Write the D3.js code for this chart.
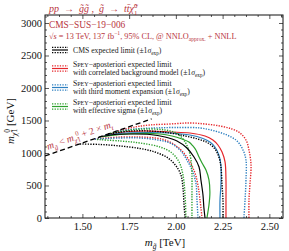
<!DOCTYPE html>
<html>
<head>
<meta charset="utf-8">
<script src="https://cdn.jsdelivr.net/npm/d3@7"></script>
<style>
  body { margin: 0; background: #fff; }
  svg { display: block; }
  text { font-family: "Liberation Serif", "DejaVu Serif", serif; }
</style>
</head>
<body>
<svg id="chart" width="289" height="251"></svg>
<script>
// axis ticks
const xTicks = [1.5, 1.75, 2.0, 2.25, 2.5];
const yTicks = [0, 500, 1000, 1500, 2000, 2500, 3000];

// kinematic boundary m_gluino = m_chi + 2 m_top  [m_g TeV, m_chi GeV]
const kinBoundary = [[1.3, 954], [1.87, 1524]];

// CMS expected limit
const cmsExp = [[1.589,1246],[1.674,1285],[1.755,1292],[1.861,1285],[1.942,1246],[2.006,1185],[2.059,1077],[2.097,938],[2.124,785],[2.134,585],[2.145,354],[2.150,154],[2.156,0]];
const cmsDown = [[1.487,1138],[1.594,1131],[1.701,1108],[1.808,1069],[1.888,1015],[1.958,923],[2.001,800],[2.027,662],[2.038,462],[2.043,231],[2.049,0]];
const cmsUp = [[1.637,1292],[1.755,1338],[1.861,1338],[1.968,1308],[2.049,1262],[2.118,1215],[2.172,1154],[2.209,1062],[2.230,938],[2.241,785],[2.247,508],[2.252,277],[2.252,0]];

// Spey, correlated background model
const corrExp = [[1.637,1292],[1.755,1331],[1.861,1338],[1.968,1323],[2.075,1308],[2.156,1262],[2.198,1200],[2.225,1123],[2.247,1015],[2.263,862],[2.268,585],[2.268,277],[2.268,0]];
const corrDown = [[1.567,1215],[1.701,1246],[1.808,1246],[1.888,1231],[1.942,1200],[1.995,1123],[2.038,1015],[2.075,862],[2.102,692],[2.118,508],[2.129,277],[2.140,0]];
const corrUp = [[1.690,1340],[1.781,1400],[1.861,1431],[1.968,1446],[2.075,1462],[2.156,1446],[2.236,1415],[2.300,1369],[2.343,1308],[2.375,1200],[2.391,1046],[2.402,815],[2.396,508],[2.391,277],[2.391,0]];

// Spey, third moment expansion
const tmExp = [[1.621,1275],[1.728,1308],[1.861,1315],[1.968,1308],[2.075,1277],[2.145,1223],[2.182,1169],[2.209,1092],[2.230,969],[2.241,815],[2.241,508],[2.236,277],[2.236,0]];
const tmDown = [[1.567,1215],[1.701,1231],[1.808,1231],[1.904,1200],[1.968,1154],[2.022,1046],[2.059,892],[2.086,738],[2.107,538],[2.113,277],[2.118,0]];
const tmUp = [[1.674,1328],[1.781,1369],[1.888,1385],[1.995,1392],[2.129,1385],[2.209,1338],[2.273,1277],[2.327,1185],[2.359,1046],[2.375,892],[2.375,585],[2.370,277],[2.364,0]];

// Spey, effective sigma
const esExp = [[1.594,1246],[1.701,1285],[1.808,1300],[1.915,1292],[1.979,1262],[2.033,1215],[2.070,1169],[2.091,1108],[2.107,1046],[2.124,938],[2.140,846],[2.161,738],[2.177,585],[2.182,400],[2.177,200],[2.166,0]];
const esDown = [[1.578,1208],[1.701,1185],[1.808,1154],[1.915,1092],[1.979,1000],[2.017,862],[2.038,662],[2.049,354],[2.054,0]];
const esUp = [[1.648,1300],[1.755,1354],[1.861,1369],[1.942,1354],[2.001,1308],[2.038,1215],[2.065,1077],[2.081,892],[2.086,662],[2.086,354],[2.086,0]];

const red = '#e5262b';
const blue = '#2c7fc0';
const green = '#2ca02c';
const black = '#000000';
const textRed = '#b8343c';

const series = [
  { color: red, exp: corrExp, up: corrUp, down: corrDown },
  { color: blue, exp: tmExp, up: tmUp, down: tmDown },
  { color: green, exp: esExp, up: esUp, down: esDown },
  { color: black, exp: cmsExp, up: cmsUp, down: cmsDown },
];

const legendItems = [
  { color: black, spey: false, plain: 'CMS expected limit ' },
  { color: red, spey: true, text2: 'with correlated background model ' },
  { color: blue, spey: true, text2: 'with third moment expansion ' },
  { color: green, spey: true, text2: 'with effective sigma ' },
];

const pl = 45, pr = 283, pt = 15, pb = 218;

const svg = d3.select('#chart');

const x = d3.scaleLinear().domain([1.3, 2.573]).range([pl, pr]);
const y = d3.scaleLinear().domain([0, 3123]).range([pb, pt]);

// rich text with sub/superscripts
function rich(sel, parts, fs) {
  let off = 0;
  parts.forEach((p) => {
    const small = p.sub || p.sup;
    const target = p.sub ? fs * 0.28 : p.sup ? -fs * 0.38 : 0;
    sel
      .append('tspan')
      .attr('dy', target - off)
      .attr('dx', p.dx || null)
      .attr('font-size', small ? fs * 0.68 : (p.fs || fs))
      .attr('font-style', p.it ? 'italic' : null)
      .attr('xml:space', 'preserve')
      .text(p.t);
    off = target;
  });
}

svg.append('defs').append('clipPath').attr('id', 'plot-clip')
  .append('rect').attr('x', pl).attr('y', pt).attr('width', pr - pl).attr('height', pb - pt);

const plot = svg.append('g').attr('clip-path', 'url(#plot-clip)');

const line = d3.line()
  .x((d) => x(d[0]))
  .y((d) => y(d[1]))
  .curve(d3.curveCatmullRom.alpha(0.5));

series.forEach((s) => {
  [s.down, s.up].forEach((vals) => {
    plot.append('path')
      .attr('d', line(vals))
      .attr('fill', 'none')
      .attr('stroke', s.color)
      .attr('stroke-width', 1.4)
      .attr('stroke-dasharray', '1.3,1.3');
  });
  plot.append('path')
    .attr('d', line(s.exp))
    .attr('fill', 'none')
    .attr('stroke', s.color)
    .attr('stroke-width', 1.2);
});

// kinematic boundary
plot.append('path')
  .attr('d', d3.line().x((d) => x(d[0])).y((d) => y(d[1]))(kinBoundary))
  .attr('fill', 'none')
  .attr('stroke', black)
  .attr('stroke-width', 1.3)
  .attr('stroke-dasharray', '5,3');

const ang = Math.atan2(y(kinBoundary[1][1]) - y(kinBoundary[0][1]), x(kinBoundary[1][0]) - x(kinBoundary[0][0])) * 180 / Math.PI;
const kx = x(1.325), ky = y(1.325 * 1000 - 346);
const kin = svg.append('text')
  .attr('transform', `translate(${kx},${ky}) rotate(${ang}) translate(0,-5)`)
  .attr('fill', textRed)
  .attr('font-size', 9.8);
rich(kin, [
  { t: 'm', it: true }, { t: 'g̃', it: true, sub: true }, { t: ' < ' },
  { t: 'm', it: true }, { t: 'χ̃', it: true, sub: true }, { t: '0', sup: true }, { t: '1', sub: true, dx: -3.2 },
  { t: ' + 2 × ' }, { t: 'm', it: true }, { t: 't', it: true, sub: true },
], 9.8);

// axes
const xMinor = d3.range(1.3125, 2.573, 0.0625).filter((v) => !xTicks.some((t) => Math.abs(t - v) < 1e-6));
const yMinor = d3.range(100, 3123, 100).filter((v) => v % 500 !== 0);

const axisFont = (g) => g.selectAll('text').attr('font-family', '"Liberation Serif", serif').attr('font-size', 10.5).attr('fill', '#111');
const clean = (g) => g.select('.domain').remove();

svg.append('g').attr('transform', `translate(0,${pb})`)
  .call(d3.axisBottom(x).tickValues(xTicks).tickFormat(d3.format('.2f')).tickSize(-4).tickPadding(5))
  .call(clean).call(axisFont);
svg.append('g').attr('transform', `translate(0,${pb})`)
  .call(d3.axisBottom(x).tickValues(xMinor).tickFormat('').tickSize(-2)).call(clean);
svg.append('g').attr('transform', `translate(0,${pt})`)
  .call(d3.axisTop(x).tickValues(xTicks).tickFormat('').tickSize(-4)).call(clean);
svg.append('g').attr('transform', `translate(0,${pt})`)
  .call(d3.axisTop(x).tickValues(xMinor).tickFormat('').tickSize(-2)).call(clean);

svg.append('g').attr('transform', `translate(${pl},0)`)
  .call(d3.axisLeft(y).tickValues(yTicks).tickFormat(d3.format('d')).tickSize(-4).tickPadding(3))
  .call(clean).call(axisFont);
svg.append('g').attr('transform', `translate(${pl},0)`)
  .call(d3.axisLeft(y).tickValues(yMinor).tickFormat('').tickSize(-2)).call(clean);
svg.append('g').attr('transform', `translate(${pr},0)`)
  .call(d3.axisRight(y).tickValues(yTicks).tickFormat('').tickSize(-4)).call(clean);
svg.append('g').attr('transform', `translate(${pr},0)`)
  .call(d3.axisRight(y).tickValues(yMinor).tickFormat('').tickSize(-2)).call(clean);

svg.selectAll('.tick line').attr('stroke', '#111').attr('stroke-width', 0.7);

svg.append('rect')
  .attr('x', pl).attr('y', pt).attr('width', pr - pl).attr('height', pb - pt)
  .attr('fill', 'none').attr('stroke', '#111').attr('stroke-width', 1);

// axis titles
const xl = svg.append('text').attr('x', 165).attr('y', 246).attr('text-anchor', 'middle').attr('font-size', 11).attr('fill', '#111');
rich(xl, [{ t: 'm', it: true }, { t: 'g̃', it: true, sub: true }, { t: ' [TeV]' }], 11);

const yl = svg.append('text').attr('transform', 'translate(14,121) rotate(-90)').attr('text-anchor', 'middle').attr('font-size', 11).attr('fill', '#111');
rich(yl, [{ t: 'm', it: true }, { t: 'χ̃', it: true, sub: true }, { t: '0', sup: true }, { t: '1', sub: true, dx: -3.5 }, { t: ' [GeV]' }], 11);

// header texts
const title = svg.append('text').attr('x', 49).attr('y', 12).attr('fill', textRed).attr('font-size', 10);
rich(title, [
  { t: 'pp', it: true }, { t: '  →  ' }, { t: 'g̃g̃', it: true }, { t: ' ,  ' }, { t: 'g̃', it: true }, { t: '  →  ' },
  { t: 'tt̄χ̃', it: true }, { t: '0', sup: true }, { t: '1', sub: true, dx: -3.4 },
], 10);

svg.append('text').attr('x', 49).attr('y', 28).attr('fill', textRed).attr('font-size', 9.4).text('CMS−SUS−19−006');

const sq = svg.append('text').attr('x', 49).attr('y', 38.5).attr('fill', textRed).attr('font-size', 8.25);
rich(sq, [
  { t: '√' }, { t: 's', it: true }, { t: ' = 13 TeV, 137 fb' }, { t: '−1', sup: true }, { t: ', 95% CL, @ NNLO' },
  { t: 'approx.', sub: true }, { t: ' + NNLL' },
], 8.25);

// legend
const lgFs = 7.7;
const sigma = [{ t: '(±1' }, { t: 'σ', it: true }, { t: 'exp', sub: true }, { t: ')' }];
const speyParts = [{ t: 'S' }, { t: 'PEY', fs: lgFs * 0.78 }, { t: '−aposteriori expected limit' }];
const legendY = [50, 68.5, 87.5, 106.5];

legendItems.forEach((item, i) => {
  const cy = legendY[i];
  const g = svg.append('g');
  [-2.6, 2.6].forEach((o) => {
    g.append('line').attr('x1', 52).attr('x2', 68).attr('y1', cy + o).attr('y2', cy + o)
      .attr('stroke', item.color).attr('stroke-width', 1.3).attr('stroke-dasharray', '1.3,1.3');
  });
  g.append('line').attr('x1', 52).attr('x2', 68).attr('y1', cy).attr('y2', cy)
    .attr('stroke', item.color).attr('stroke-width', 1.2);

  if (!item.spey) {
    const t = svg.append('text').attr('x', 73).attr('y', cy + 2.5).attr('font-size', lgFs).attr('fill', '#222');
    rich(t, [{ t: item.plain }].concat(sigma), lgFs);
  } else {
    const t1 = svg.append('text').attr('x', 73).attr('y', cy - 1.5).attr('font-size', lgFs).attr('fill', '#222');
    rich(t1, speyParts, lgFs);
    const t2 = svg.append('text').attr('x', 73).attr('y', cy + 6.3).attr('font-size', lgFs).attr('fill', '#222');
    rich(t2, [{ t: item.text2 }].concat(sigma), lgFs);
  }
});
</script>
</body>
</html>
